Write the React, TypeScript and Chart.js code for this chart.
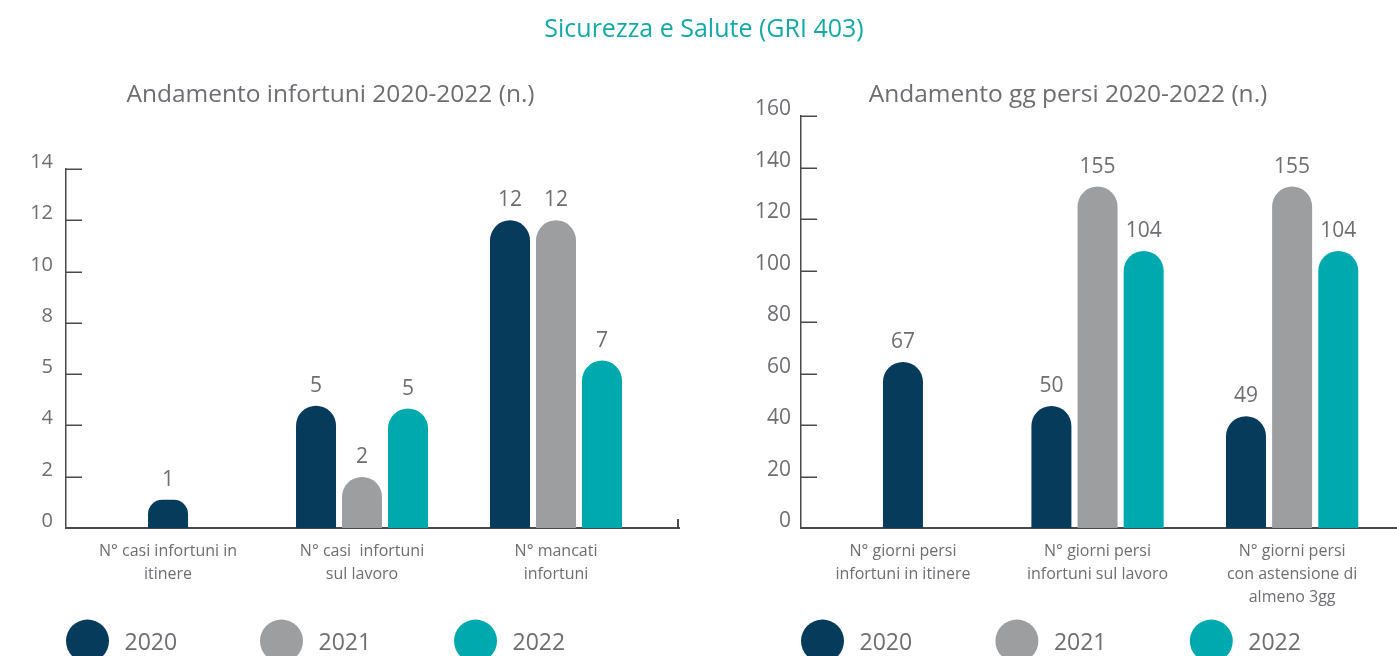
import React, { useEffect, useRef } from 'react';
import { Chart, registerables } from 'chart.js';

Chart.register(...registerables);

// ---------- data ----------
const SERIES_NAMES = ['2020', '2021', '2022'];

const LEFT_CATEGORIES = [
  ['N° casi infortuni in', 'itinere'],
  ['N° casi  infortuni', 'sul lavoro'],
  ['N° mancati', 'infortuni'],
];
const LEFT_2020 = [1.1, 4.77, 12.0];
const LEFT_2021 = [null, 1.99, 12.0];
const LEFT_2022 = [null, 4.66, 6.53];
const LEFT_LABELS_2020 = ['1', '5', '12'];
const LEFT_LABELS_2021 = [null, '2', '12'];
const LEFT_LABELS_2022 = [null, '5', '7'];
const LEFT_TICK_VALUES = [0, 2, 4, 6, 8, 10, 12, 14];
const LEFT_TICK_LABELS = ['0', '2', '4', '5', '8', '10', '12', '14'];

const RIGHT_CATEGORIES = [
  ['N° giorni persi', 'infortuni in itinere'],
  ['N° giorni persi', 'infortuni sul lavoro'],
  ['N° giorni persi', 'con astensione di', 'almeno 3gg'],
];
const RIGHT_2020 = [64.5, 47.4, 43.4];
const RIGHT_2021 = [null, 132.6, 132.6];
const RIGHT_2022 = [null, 107.6, 107.6];
const RIGHT_LABELS_2020 = ['67', '50', '49'];
const RIGHT_LABELS_2021 = [null, '155', '155'];
const RIGHT_LABELS_2022 = [null, '104', '104'];
const RIGHT_TICK_VALUES = [0, 20, 40, 60, 80, 100, 120, 140, 160];
const RIGHT_TICK_LABELS = ['0', '20', '40', '60', '80', '100', '120', '140', '160'];

const MAIN_TITLE = 'Sicurezza e Salute (GRI 403)';
const LEFT_TITLE = 'Andamento infortuni 2020-2022 (n.)';
const RIGHT_TITLE = 'Andamento gg persi 2020-2022 (n.)';

// ---------- styles ----------
const SERIES_COLORS = ['#073b5c', '#9d9ea0', '#00a9ad'];
const TEXT = '#6d6e71';
const AXIS = '#4a4a4a';
const TEAL_TITLE = '#14a8a8';
const FONT = '"Open Sans", "Liberation Sans", sans-serif';

type PanelCfg = {
  categories: string[][];
  series: (number | null)[][];
  valueLabels: (string | null)[][];
  tickValues: number[];
  tickLabels: string[];
  yMax: number;
  xMin: number;
  xMax: number;
  padding: { left: number; right: number; top: number; bottom: number };
  width: number;
  tickFont: number;
  tickGap: number;
  endTick: boolean;
  legendStep: number;
};

function makeDecor(cfg: PanelCfg) {
  return {
    id: 'decor',
    afterDraw(chart: any) {
      const ctx = chart.ctx as CanvasRenderingContext2D;
      const { left, right, bottom } = chart.chartArea;
      const ys = chart.scales.y;
      const xs = chart.scales.x;
      ctx.save();
      // inward y ticks + labels
      ctx.strokeStyle = AXIS;
      ctx.lineWidth = 1.5;
      ctx.fillStyle = TEXT;
      ctx.font = `${cfg.tickFont}px ${FONT}`;
      ctx.textAlign = 'right';
      ctx.textBaseline = 'alphabetic';
      cfg.tickValues.forEach((v, i) => {
        const py = Math.round(ys.getPixelForValue(v)) + 0.25;
        ctx.beginPath();
        ctx.moveTo(left, py);
        ctx.lineTo(left + 16, py);
        ctx.stroke();
        ctx.fillText(cfg.tickLabels[i], left - cfg.tickGap, py - 1.5);
      });
      if (cfg.endTick) {
        ctx.lineWidth = 2;
        ctx.beginPath();
        ctx.moveTo(right - 1, bottom);
        ctx.lineTo(right - 1, bottom - 9);
        ctx.stroke();
      }
      // category labels
      ctx.font = `16px ${FONT}`;
      ctx.textAlign = 'center';
      cfg.categories.forEach((lines, i) => {
        const px = xs.getPixelForValue(i);
        lines.forEach((t, j) => {
          ctx.fillText(t, px, bottom + 28 + j * 23);
        });
      });
      // value labels
      ctx.font = `21px ${FONT}`;
      chart.data.datasets.forEach((_ds: any, k: number) => {
        const meta = chart.getDatasetMeta(k);
        meta.data.forEach((bar: any, i: number) => {
          const lab = cfg.valueLabels[k][i];
          if (lab == null) return;
          ctx.fillText(lab, bar.x, bar.y - 14);
        });
      });
      // legend
      ctx.textAlign = 'left';
      ctx.font = `23px ${FONT}`;
      chart.data.datasets.forEach((ds: any, k: number) => {
        const cx = left + 21.5 + k * cfg.legendStep;
        const cy = 641;
        ctx.fillStyle = ds.backgroundColor;
        ctx.beginPath();
        ctx.arc(cx, cy, 21.5, 0, Math.PI * 2);
        ctx.fill();
        ctx.fillStyle = TEXT;
        ctx.fillText(ds.label, cx + 37, 650);
      });
      ctx.restore();
    },
  };
}

function BarPanel({ cfg, x }: { cfg: PanelCfg; x: number }) {
  const ref = useRef<HTMLCanvasElement | null>(null);
  useEffect(() => {
    if (!ref.current) return;
    const chart = new Chart(ref.current, {
      type: 'bar',
      data: {
        datasets: SERIES_NAMES.map((name, k) => ({
          label: name,
          data: cfg.series[k].map((v, i) => ({ x: i, y: v })),
          backgroundColor: SERIES_COLORS[k],
          borderRadius: 20,
          borderSkipped: 'start',
          categoryPercentage: 138 / 194,
          barPercentage: 40 / 46,
          maxBarThickness: 40,
          skipNull: true,
        })) as any,
      },
      options: {
        responsive: false,
        animation: false,
        layout: { padding: cfg.padding },
        plugins: {
          legend: { display: false },
          tooltip: { enabled: false },
          title: { display: false },
        },
        scales: {
          x: {
            type: 'linear',
            offset: false,
            min: cfg.xMin,
            max: cfg.xMax,
            bounds: 'data',
            grid: { display: false, drawTicks: false, offset: false },
            ticks: { display: false },
            border: { display: true, color: AXIS, width: 2 },
            afterBuildTicks: (s: any) => {
              s.ticks = cfg.categories.map((_c, i) => ({ value: i }));
            },
          },
          y: {
            type: 'linear',
            min: 0,
            max: cfg.yMax,
            grid: { display: false, drawTicks: false },
            ticks: { display: false },
            border: { display: true, color: AXIS, width: 1.5 },
            afterBuildTicks: (s: any) => {
              s.ticks = cfg.tickValues.map((v) => ({ value: v }));
            },
          },
        },
      } as any,
      plugins: [makeDecor(cfg)],
    });
    return () => chart.destroy();
  }, [cfg]);
  return (
    <canvas
      ref={ref}
      width={cfg.width}
      height={656}
      style={{ position: 'absolute', left: x, top: 0, width: cfg.width, height: 656 }}
    />
  );
}

const LEFT_CFG: PanelCfg = {
  categories: LEFT_CATEGORIES,
  series: [LEFT_2020, LEFT_2021, LEFT_2022],
  valueLabels: [LEFT_LABELS_2020, LEFT_LABELS_2021, LEFT_LABELS_2022],
  tickValues: LEFT_TICK_VALUES,
  tickLabels: LEFT_TICK_LABELS,
  yMax: 14,
  xMin: -0.526,
  xMax: 2.634,
  padding: { left: 66, right: 21, top: 169, bottom: 128 },
  width: 700,
  tickFont: 20,
  tickGap: 13,
  endTick: true,
  legendStep: 194,
};

const RIGHT_CFG: PanelCfg = {
  categories: RIGHT_CATEGORIES,
  series: [RIGHT_2020, RIGHT_2021, RIGHT_2022],
  valueLabels: [RIGHT_LABELS_2020, RIGHT_LABELS_2021, RIGHT_LABELS_2022],
  tickValues: RIGHT_TICK_VALUES,
  tickLabels: RIGHT_TICK_LABELS,
  yMax: 160,
  xMin: -0.524,
  xMax: 2.539,
  padding: { left: 101, right: 0, top: 116, bottom: 128 },
  width: 697,
  tickFont: 21,
  tickGap: 10,
  endTick: false,
  legendStep: 194.4,
};

const titleStyle = (cx: number, top: number, size: number, color: string): React.CSSProperties => ({
  position: 'absolute',
  left: cx,
  top,
  transform: 'translateX(-50%)',
  whiteSpace: 'nowrap',
  fontFamily: FONT,
  fontSize: size,
  lineHeight: '30px',
  color,
  zIndex: 2,
});

export default function App() {
  return (
    <div
      style={{
        position: 'fixed',
        left: 0,
        top: 0,
        width: 1397,
        height: 656,
        background: '#ffffff',
        overflow: 'hidden',
      }}
    >
      <BarPanel cfg={LEFT_CFG} x={0} />
      <BarPanel cfg={RIGHT_CFG} x={700} />
      <div style={titleStyle(704, 12, 25, TEAL_TITLE)}>{MAIN_TITLE}</div>
      <div style={titleStyle(330.5, 78, 24.5, TEXT)}>{LEFT_TITLE}</div>
      <div style={titleStyle(1068, 78, 24.5, TEXT)}>{RIGHT_TITLE}</div>
    </div>
  );
}
